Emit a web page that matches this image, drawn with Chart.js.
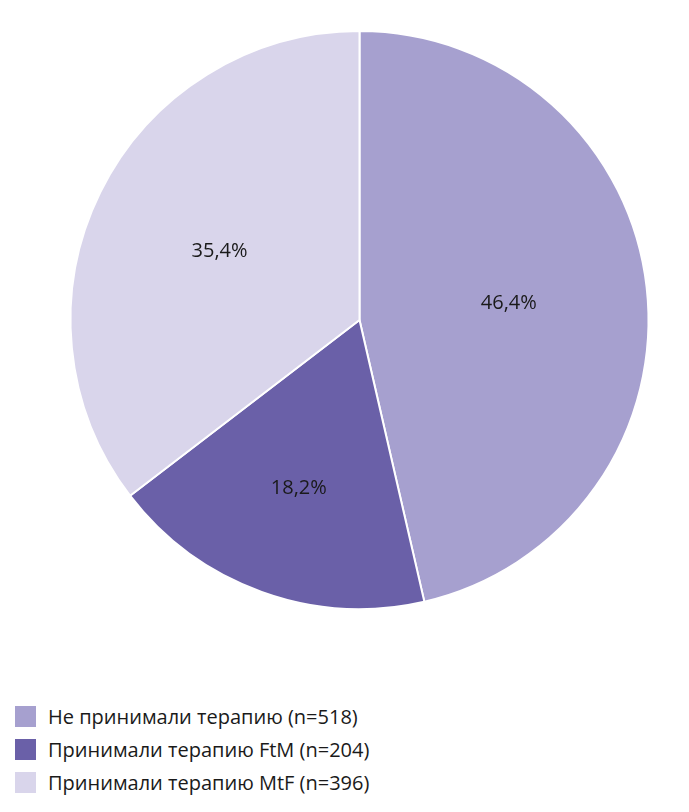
<!DOCTYPE html>
<html>
<head>
  <script src="https://cdn.jsdelivr.net/npm/chart.js"></script>
  <style>
    body { margin: 0; background: #fff; font-family: "Open Sans", sans-serif; }
    #legend { position: absolute; left: 15px; top: 700px; }
    .row { display: flex; align-items: center; height: 33px; font-size: 20px; color: #1a1a1a; }
    .sw { width: 21px; height: 21px; margin-right: 12px; }
  </style>
</head>
<body>
  <canvas id="pie" width="689" height="640"></canvas>
  <div id="legend"></div>
  <script>
    var labels = ['Не принимали терапию (n=518)', 'Принимали терапию FtM (n=204)', 'Принимали терапию MtF (n=396)'];
    var values = [46.4, 18.2, 35.4];
    var valueLabels = ['46,4%', '18,2%', '35,4%'];
    var colors = ['#a6a0cf', '#6a60a8', '#d9d5eb'];
    var labelRadius = [0.52, 0.62, 0.54];

    var sliceText = {
      id: 'sliceText',
      afterDatasetsDraw: function(chart) {
        var ctx = chart.ctx;
        chart.getDatasetMeta(0).data.forEach(function(arc, i) {
          var mid = (arc.startAngle + arc.endAngle) / 2;
          var r = arc.outerRadius * labelRadius[i];
          ctx.save();
          ctx.font = '20px "Open Sans", sans-serif';
          ctx.fillStyle = '#1a1a1a';
          ctx.textAlign = 'center';
          ctx.textBaseline = 'middle';
          ctx.fillText(valueLabels[i], arc.x + Math.cos(mid) * r, arc.y + Math.sin(mid) * r);
          ctx.restore();
        });
      }
    };

    new Chart(document.getElementById('pie'), {
      type: 'pie',
      data: { labels: labels, datasets: [{ data: values, backgroundColor: colors, borderColor: '#fff', borderWidth: 2 }] },
      options: {
        responsive: false,
        animation: false,
        layout: { padding: { left: 30, top: 30, bottom: 30 } },
        plugins: { legend: { display: false }, tooltip: { enabled: false } }
      },
      plugins: [sliceText]
    });

    var lg = document.getElementById('legend');
    labels.forEach(function(l, i) {
      lg.innerHTML += '<div class="row"><div class="sw" style="background:' + colors[i] + '"></div>' + l + '</div>';
    });
  </script>
</body>
</html>
